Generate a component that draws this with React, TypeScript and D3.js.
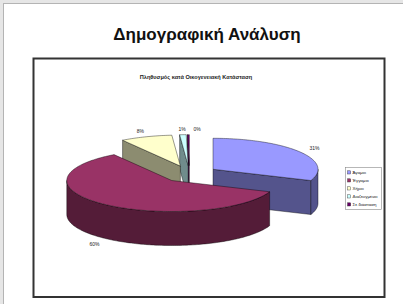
import { useEffect, useRef } from 'react'
import * as d3 from 'd3'

const CATEGORIES = ['Άγαμοι', 'Έγγαμοι', 'Χήροι', 'Διαζευγμένοι', 'Σε διάσταση']
const VALUES = [31, 60, 8, 1, 0.3]
const COLORS = ['#9999FF', '#993366', '#FFFFCC', '#CCFFFF', '#660066']

const TITLE = 'Δημογραφική Ανάλυση'
const CHART_TITLE = 'Πληθυσμός κατά Οικογενειακή Κατάσταση'

const W = 403
const H = 304

export default function App() {
  const svgRef = useRef<SVGSVGElement>(null)

  useEffect(() => {
    if (!svgRef.current) return
    const svg = d3.select(svgRef.current)
    svg.selectAll('*').remove()

    // slide background
    svg.append('rect').attr('width', W).attr('height', H).attr('fill', '#e6e6e6')
    svg.append('rect')
      .attr('x', 3.5).attr('y', 3.5).attr('width', W).attr('height', H)
      .attr('fill', '#fff').attr('stroke', '#b4b4b4').attr('stroke-width', 1)

    svg.append('text')
      .attr('x', 207).attr('y', 40)
      .attr('text-anchor', 'middle')
      .attr('font-family', 'Liberation Sans, Arial, sans-serif')
      .attr('font-size', 17)
      .attr('font-weight', 'bold')
      .attr('fill', '#111')
      .text(TITLE)

    // chart area
    svg.append('rect')
      .attr('x', 33.5).attr('y', 58.5).attr('width', 351).attr('height', 238.5)
      .attr('fill', '#fff').attr('stroke', '#333').attr('stroke-width', 2)

    svg.append('text')
      .attr('x', 196).attr('y', 79)
      .attr('text-anchor', 'middle')
      .attr('font-family', 'Liberation Sans, Arial, sans-serif')
      .attr('font-size', 5.6)
      .attr('font-weight', 'bold')
      .attr('fill', '#222')
      .text(CHART_TITLE)

    // 3D pie
    const cx = 189.6
    const cy = 174
    const rx = 105
    const ry = 31
    const depth = 34
    const explode = 0.27
    const total = d3.sum(VALUES)

    const arcs = d3.pie<number>().sort(null).value(d => d)(VALUES)
    const slices = arcs.map((a, i) => {
      const mid = (a.startAngle + a.endAngle) / 2
      return {
        i,
        a0: a.startAngle,
        a1: a.endAngle,
        mid,
        ox: cx + explode * rx * Math.sin(mid),
        oy: cy - explode * ry * Math.cos(mid),
        color: COLORS[i],
        value: VALUES[i],
      }
    })
    type Slice = typeof slices[number]

    const pt = (s: Slice, t: number, k = 1, dz = 0): [number, number] =>
      [s.ox + rx * k * Math.sin(t), s.oy - ry * k * Math.cos(t) + dz]
    const arcPts = (s: Slice, t0: number, t1: number, dz = 0) => {
      const n = Math.max(2, Math.ceil(Math.abs(t1 - t0) / 0.02))
      return d3.range(n + 1).map(j => pt(s, t0 + (t1 - t0) * j / n, 1, dz))
    }
    const poly = (pts: [number, number][]) => 'M' + pts.map(p => p.join(',')).join('L') + 'Z'
    const shade = (c: string, f: number) => {
      const r = d3.rgb(c)
      return d3.rgb(r.r * f, r.g * f, r.b * f).toString()
    }

    const ordered = [...slices].sort((a, b) => a.oy - b.oy)
    const g = svg.append('g')

    // side faces first (back to front)
    ordered.forEach(s => {
      const side = shade(s.color, 0.55)
      const center: [number, number] = [s.ox, s.oy]
      const centerB: [number, number] = [s.ox, s.oy + depth]
      const cutFace = (t: number) => {
        const o = pt(s, t)
        const ob = pt(s, t, 1, depth)
        g.append('path')
          .attr('d', poly([center, o, ob, centerB]))
          .attr('fill', side).attr('stroke', '#000').attr('stroke-width', 0.4)
      }
      if (Math.sin(s.a0) < -1e-6) cutFace(s.a0)
      if (Math.sin(s.a1) > 1e-6) cutFace(s.a1)
      const lo = Math.max(s.a0, Math.PI / 2)
      const hi = Math.min(s.a1, Math.PI * 1.5)
      if (hi > lo) {
        const pts = [...arcPts(s, lo, hi), ...arcPts(s, hi, lo, depth)]
        g.append('path')
          .attr('d', poly(pts))
          .attr('fill', side).attr('stroke', '#000').attr('stroke-width', 0.4)
      }
    })

    // top faces
    ordered.forEach(s => {
      g.append('path')
        .attr('d', poly([[s.ox, s.oy], ...arcPts(s, s.a0, s.a1)]))
        .attr('fill', s.color).attr('stroke', '#000').attr('stroke-width', 0.4)
    })

    // percentage labels
    let prev: [number, number] | null = null
    slices.forEach(s => {
      let [x, y] = pt(s, s.mid, 1.17, Math.cos(s.mid) < 0 ? depth + 2 : 0)
      if (prev && Math.abs(prev[1] - y) < 6 && x - prev[0] < 14) x = prev[0] + 15
      prev = [x, y]
      svg.append('text')
        .attr('x', x).attr('y', y)
        .attr('text-anchor', 'middle')
        .attr('dominant-baseline', 'middle')
        .attr('font-family', 'Liberation Sans, Arial, sans-serif')
        .attr('font-size', 5)
        .attr('fill', '#222')
        .text(`${Math.round((s.value / total) * 100)}%`)
    })

    // legend
    const lx = 345.5
    const ly = 167.5
    const step = 8
    const legend = svg.append('g').attr('transform', `translate(${lx},${ly})`)
    legend.append('rect')
      .attr('width', 36).attr('height', step * CATEGORIES.length + 2)
      .attr('fill', '#fff').attr('stroke', '#888').attr('stroke-width', 0.6)
    CATEGORIES.forEach((c, i) => {
      const yy = 5 + i * step
      legend.append('rect')
        .attr('x', 2).attr('y', yy - 1.7).attr('width', 3.2).attr('height', 3.2)
        .attr('fill', COLORS[i]).attr('stroke', '#333').attr('stroke-width', 0.4)
      legend.append('text')
        .attr('x', 7).attr('y', yy)
        .attr('dominant-baseline', 'middle')
        .attr('font-family', 'Liberation Sans, Arial, sans-serif')
        .attr('font-size', 4.4)
        .attr('fill', '#222')
        .text(c)
    })
  }, [])

  return (
    <div style={{ position: 'fixed', left: 0, top: 0, width: W, height: H }}>
      <svg ref={svgRef} width={W} height={H} />
    </div>
  )
}
